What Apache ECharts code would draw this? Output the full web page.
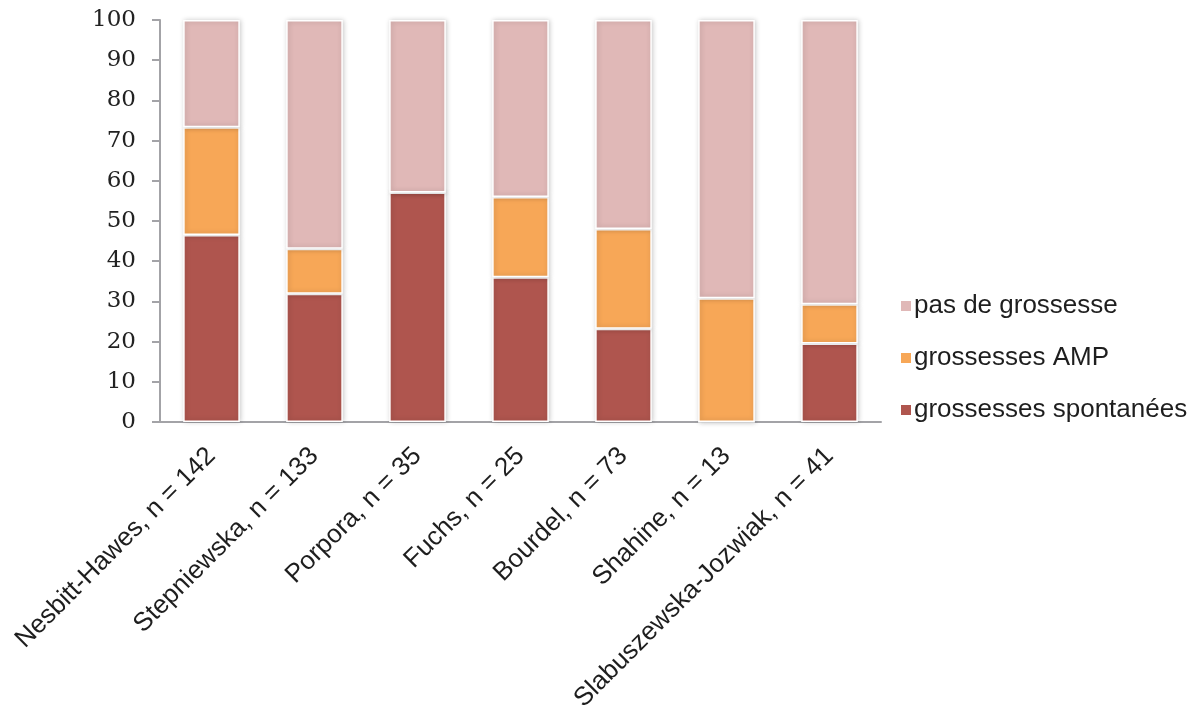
<!DOCTYPE html>
<html>
<head>
<meta charset="utf-8">
<script src="https://cdn.jsdelivr.net/npm/echarts@6/dist/echarts.min.js"></script>
<style>
html,body{margin:0;padding:0;background:#fff;}
#c{width:1204px;height:711px;}
</style>
</head>
<body>
<div id="c"></div>
<script>
var categories = ["Nesbitt-Hawes, n = 142","Stepniewska, n = 133","Porpora, n = 35","Fuchs, n = 25","Bourdel, n = 73","Shahine, n = 13","Slabuszewska-Jozwiak, n = 41"];
var spontanees = [46.5, 31.9, 57.1, 36.0, 23.2, 0, 19.5];
var amp = [26.8, 11.2, 0, 20.0, 24.8, 30.8, 9.8];
var pasDeGrossesse = [26.7, 56.9, 42.9, 44.0, 52.0, 69.2, 70.7];
var yTicks = [0,10,20,30,40,50,60,70,80,90,100];

var colors = {sp:"#AF554E", amp:"#F7A757", pas:"#E0B8B7"};
function barStyle(c){
  return {color:c, borderColor:"#ffffff", borderWidth:1.5,
    shadowBlur:5, shadowColor:"rgba(0,0,0,0.22)", shadowOffsetX:1, shadowOffsetY:0};
}
var chart = echarts.init(document.getElementById('c'), null, {renderer:'canvas'});
chart.setOption({
  animation:false,
  backgroundColor:"#ffffff",
  grid:{left:160, right:323, top:20, bottom:289, containLabel:false, outerBoundsMode:'none'},
  legend:{
    orient:'vertical', left:894, top:288, itemWidth:12, itemHeight:12, itemGap:26,
    icon:'rect',
    data:["pas de grossesse","grossesses AMP","grossesses spontanées"],
    textStyle:{fontFamily:"Liberation Sans, Arial", fontSize:26, color:"#1e1e1e", padding:[0,0,0,-3]}
  },
  xAxis:{
    type:'category', data:categories,
    axisLine:{lineStyle:{color:"#a3a3a7", width:2}},
    axisTick:{show:false},
    axisLabel:{rotate:45, interval:0, margin:30, fontFamily:"Liberation Sans, Arial", fontSize:26, color:"#1e1e1e"}
  },
  yAxis:{
    type:'value', min:0, max:100, interval:10,
    axisLine:{show:true, lineStyle:{color:"#a3a3a7", width:2}},
    axisTick:{show:true, length:8, lineStyle:{color:"#a3a3a7", width:2}},
    splitLine:{show:false},
    axisLabel:{margin:24, fontFamily:"DejaVu Serif", fontSize:23, color:"#222222",
      formatter:function(v){return yTicks.indexOf(v)>=0 ? String(v) : '';}}
  },
  series:[
    {name:"grossesses spontanées", type:'bar', stack:'s', data:spontanees, barWidth:'55%', itemStyle:barStyle(colors.sp)},
    {name:"grossesses AMP", type:'bar', stack:'s', data:amp, itemStyle:barStyle(colors.amp)},
    {name:"pas de grossesse", type:'bar', stack:'s', data:pasDeGrossesse, itemStyle:barStyle(colors.pas)}
  ]
});
</script>
</body>
</html>
